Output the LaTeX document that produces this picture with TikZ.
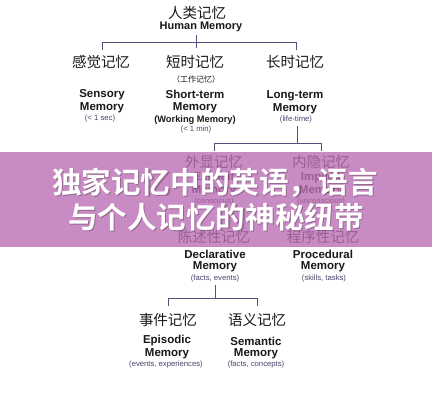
\documentclass[tikz,border=0pt]{standalone}
\usepackage{fontspec}
\setmainfont{Liberation Sans}
\newfontfamily\cjk{Noto Sans CJK SC}
\newfontfamily\cjkbold{Noto Sans CJK SC Bold}
\definecolor{lnc}{RGB}{80,80,122}
\definecolor{smc}{RGB}{70,70,110}
\definecolor{txc}{RGB}{25,25,25}
\definecolor{bandc}{RGB}{188,110,181}
\begin{document}
\begin{tikzpicture}[x=1pt,y=-1pt,
  every node/.style={inner sep=0pt},
  cn/.style={font=\cjk\fontsize{14.5}{14.5}\selectfont, text=txc},
  cnsm/.style={font=\cjk\fontsize{8}{8}\selectfont, text=txc},
  en/.style={font=\bfseries\fontsize{11.5}{12}\selectfont, text=txc},
  enm/.style={font=\bfseries\fontsize{11}{12}\selectfont, text=txc},
  sm/.style={font=\fontsize{7.7}{8}\selectfont, text=smc},
  wm/.style={font=\bfseries\fontsize{9.3}{10}\selectfont, text=txc},
  ln/.style={draw=lnc, line width=0.9pt},
  ttl/.style={font=\cjkbold\fontsize{29.6}{29.6}\selectfont, text=white},
  ttlsh/.style={font=\cjkbold\fontsize{29.6}{29.6}\selectfont, text=black, opacity=0.25}]
\useasboundingbox (0,0) rectangle (432,400);
\fill[white] (0,0) rectangle (432,400);

% level 1
\node[cn] (hmz) at (197,13) {人类记忆};
\node[enm] (hm) at (201,27) {Human Memory};

% bracket 1
\coordinate (b1t) at (196,35);
\coordinate (b1b) at (196,48);
\coordinate (b1l) at (102,42);
\coordinate (b1r) at (296,42);
\coordinate (b1ld) at (102,50);
\coordinate (b1rd) at (296,50);
\draw[ln] (b1t) -- (b1b);
\draw[ln] (b1ld) -- (b1l) -- (b1r) -- (b1rd);

% level 2
\node[cn] (sz) at (101,62) {感觉记忆};
\node[cn] (stz) at (195,62) {短时记忆};
\node[cn] (ltz) at (295,62) {长时记忆};
\node[cnsm] (wmz) at (196,79) {（工作记忆）};

\node[en] (se1) at (102,95) {Sensory};
\node[en] (se2) at (102,108) {Memory};
\node[sm] (se3) at (100,119) {(< 1 sec)};

\node[en] (st1) at (195,94) {Short-term};
\node[en] (st2) at (195,108) {Memory};
\node[wm] (st3) at (195,120) {(Working Memory)};
\node[sm] (st4) at (196,130) {(< 1 min)};

\node[en] (lt1) at (295,96) {Long-term};
\node[en] (lt2) at (295,109) {Memory};
\node[sm] (lt3) at (296,120) {(life-time)};

% bracket 2
\coordinate (b2t) at (297,126);
\coordinate (b2c) at (297,143);
\coordinate (b2l) at (214,143);
\coordinate (b2r) at (321,143);
\coordinate (b2ld) at (214,151);
\coordinate (b2rd) at (321,151);
\draw[ln] (b2t) -- (b2c);
\draw[ln] (b2ld) -- (b2l) -- (b2r) -- (b2rd);

% level 3 (under band)
\node[cn] (exz) at (214,162) {外显记忆};
\node[cn] (imz) at (321,162) {内隐记忆};
\node[en] (ex1) at (214,178) {Explicit};
\node[en] (ex2) at (214,191) {Memory};
\node[sm, text=txc] (ex3) at (214,202) {(conscious)};
\node[en] (im1) at (321,178) {Implicit};
\node[en] (im2) at (321,191) {Memory};
\node[sm, text=txc] (im3) at (321,202) {(unconscious)};

\node[cn] (dcz) at (214,237) {陈述性记忆};
\node[cn] (prz) at (323,237) {程序性记忆};

% level 4
\node[en] (dc1) at (215,254) {Declarative};
\node[en] (dc2) at (215,267) {Memory};
\node[sm] (dc3) at (215,279) {(facts, events)};
\node[en] (pr1) at (323,254) {Procedural};
\node[en] (pr2) at (323,267) {Memory};
\node[sm] (pr3) at (324,279) {(skills, tasks)};

% bracket 3
\coordinate (b3t) at (215,285);
\coordinate (b3c) at (215,298);
\coordinate (b3l) at (168,298);
\coordinate (b3r) at (257,298);
\coordinate (b3ld) at (168,306);
\coordinate (b3rd) at (257,306);
\draw[ln] (b3t) -- (b3c);
\draw[ln] (b3ld) -- (b3l) -- (b3r) -- (b3rd);

% level 5
\node[cn] (epz) at (168,320) {事件记忆};
\node[cn] (smz) at (257,320) {语义记忆};
\node[en] (ep1) at (167,341) {Episodic};
\node[en] (ep2) at (167,354) {Memory};
\node[sm] (ep3) at (166,365) {(events, experiences)};
\node[en] (sm1) at (256,341) {Semantic};
\node[en] (sm2) at (256,354) {Memory};
\node[sm] (sm3) at (256,365) {(facts, concepts)};

% band overlay
\fill[bandc, opacity=0.8] (0,152) rectangle (432,247);

% title
\node[ttlsh] at (216.1,183.6) {独家记忆中的英语，语言};
\node[ttlsh] at (217.1,218.6) {与个人记忆的神秘纽带};
\node[ttl] (t1) at (215,182.5) {独家记忆中的英语，语言};
\node[ttl] (t2) at (216,217.5) {与个人记忆的神秘纽带};
\end{tikzpicture}
\end{document}
